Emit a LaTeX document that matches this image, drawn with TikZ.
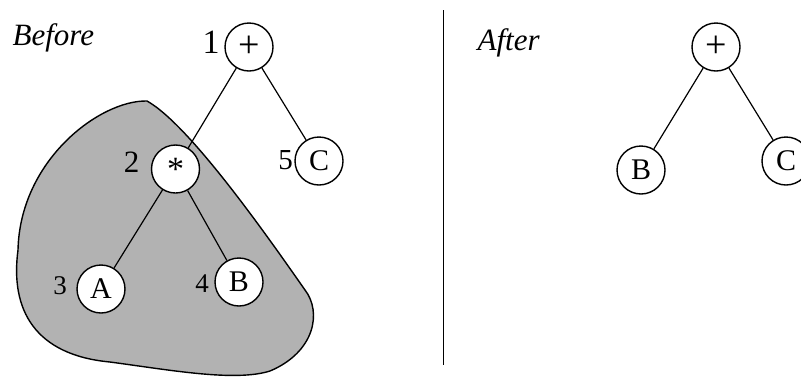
\documentclass[tikz,border=0pt]{standalone}
\usepackage{fontspec}
\setmainfont{Liberation Serif}
\definecolor{blobgray}{gray}{0.7}

\begin{document}
\begin{tikzpicture}[
  x=0.5pt, y=-0.5pt,
  line width=0.6pt,
  op/.style={
    draw, circle, fill=white, line width=0.7pt,
    minimum size=24pt, inner sep=0pt,
    font=\fontsize{15}{15}\selectfont,
  },
  sym/.style={op, font=\fontsize{19}{19}\selectfont},
  num/.style={inner sep=0pt},
  title/.style={
    anchor=base west, inner sep=0pt,
    font=\fontsize{15.5}{16}\selectfont\itshape,
  },
]
  \useasboundingbox (0,0) rectangle (801,376);

  % the subtree that gets folded
  \filldraw [fill=blobgray, line width=0.7pt]
    (147,101) .. controls (190,125) and (270,240) .. (305,290)
              .. controls (322,312) and (315,352) .. (270,371)
              .. controls (235,382) and (170,370) .. (110,362)
              .. controls (35,355) and (10,310) .. (18,250)
              .. controls (20,160) and (100,100) .. (147,101) -- cycle;

  % before
  \node [title] (before) at (12,45) {Before};

  \node [sym] (P1) at (249,47) {+};
  \node [sym, font=\fontsize{17}{17}\selectfont] (M2) at (175.5,169) {*};
  \node [op] (C5) at (319,161) {C};
  \node [op] (A3) at (101,289) {A};
  \node [op] (B4) at (239,282) {B};

  \node [num, font=\fontsize{17}{17}\selectfont] (n1) at (211,42) {1};
  \node [num, font=\fontsize{15.5}{16}\selectfont] (n2) at (131.5,162.5) {2};
  \node [num, font=\fontsize{13.5}{14}\selectfont] (n3) at (60,286) {3};
  \node [num, font=\fontsize{13.5}{14}\selectfont] (n4) at (202,284) {4};
  \node [num, font=\fontsize{14.5}{15}\selectfont] (n5) at (285.5,160) {5};

  \path (P1) edge (M2) edge (C5);
  \path (M2) edge (A3) edge (B4);

  % divider
  \coordinate (top) at (443.5,10);
  \coordinate (bottom) at (443.5,365);
  \draw (top) -- (bottom);

  % after
  \node [title] (after) at (477,50) {After};

  \node [sym] (P) at (716,47) {+};
  \node [op] (B) at (641,170) {B};
  \node [op] (C) at (786,161) {C};

  \path (P) edge (B) edge (C);

\end{tikzpicture}
\end{document}
